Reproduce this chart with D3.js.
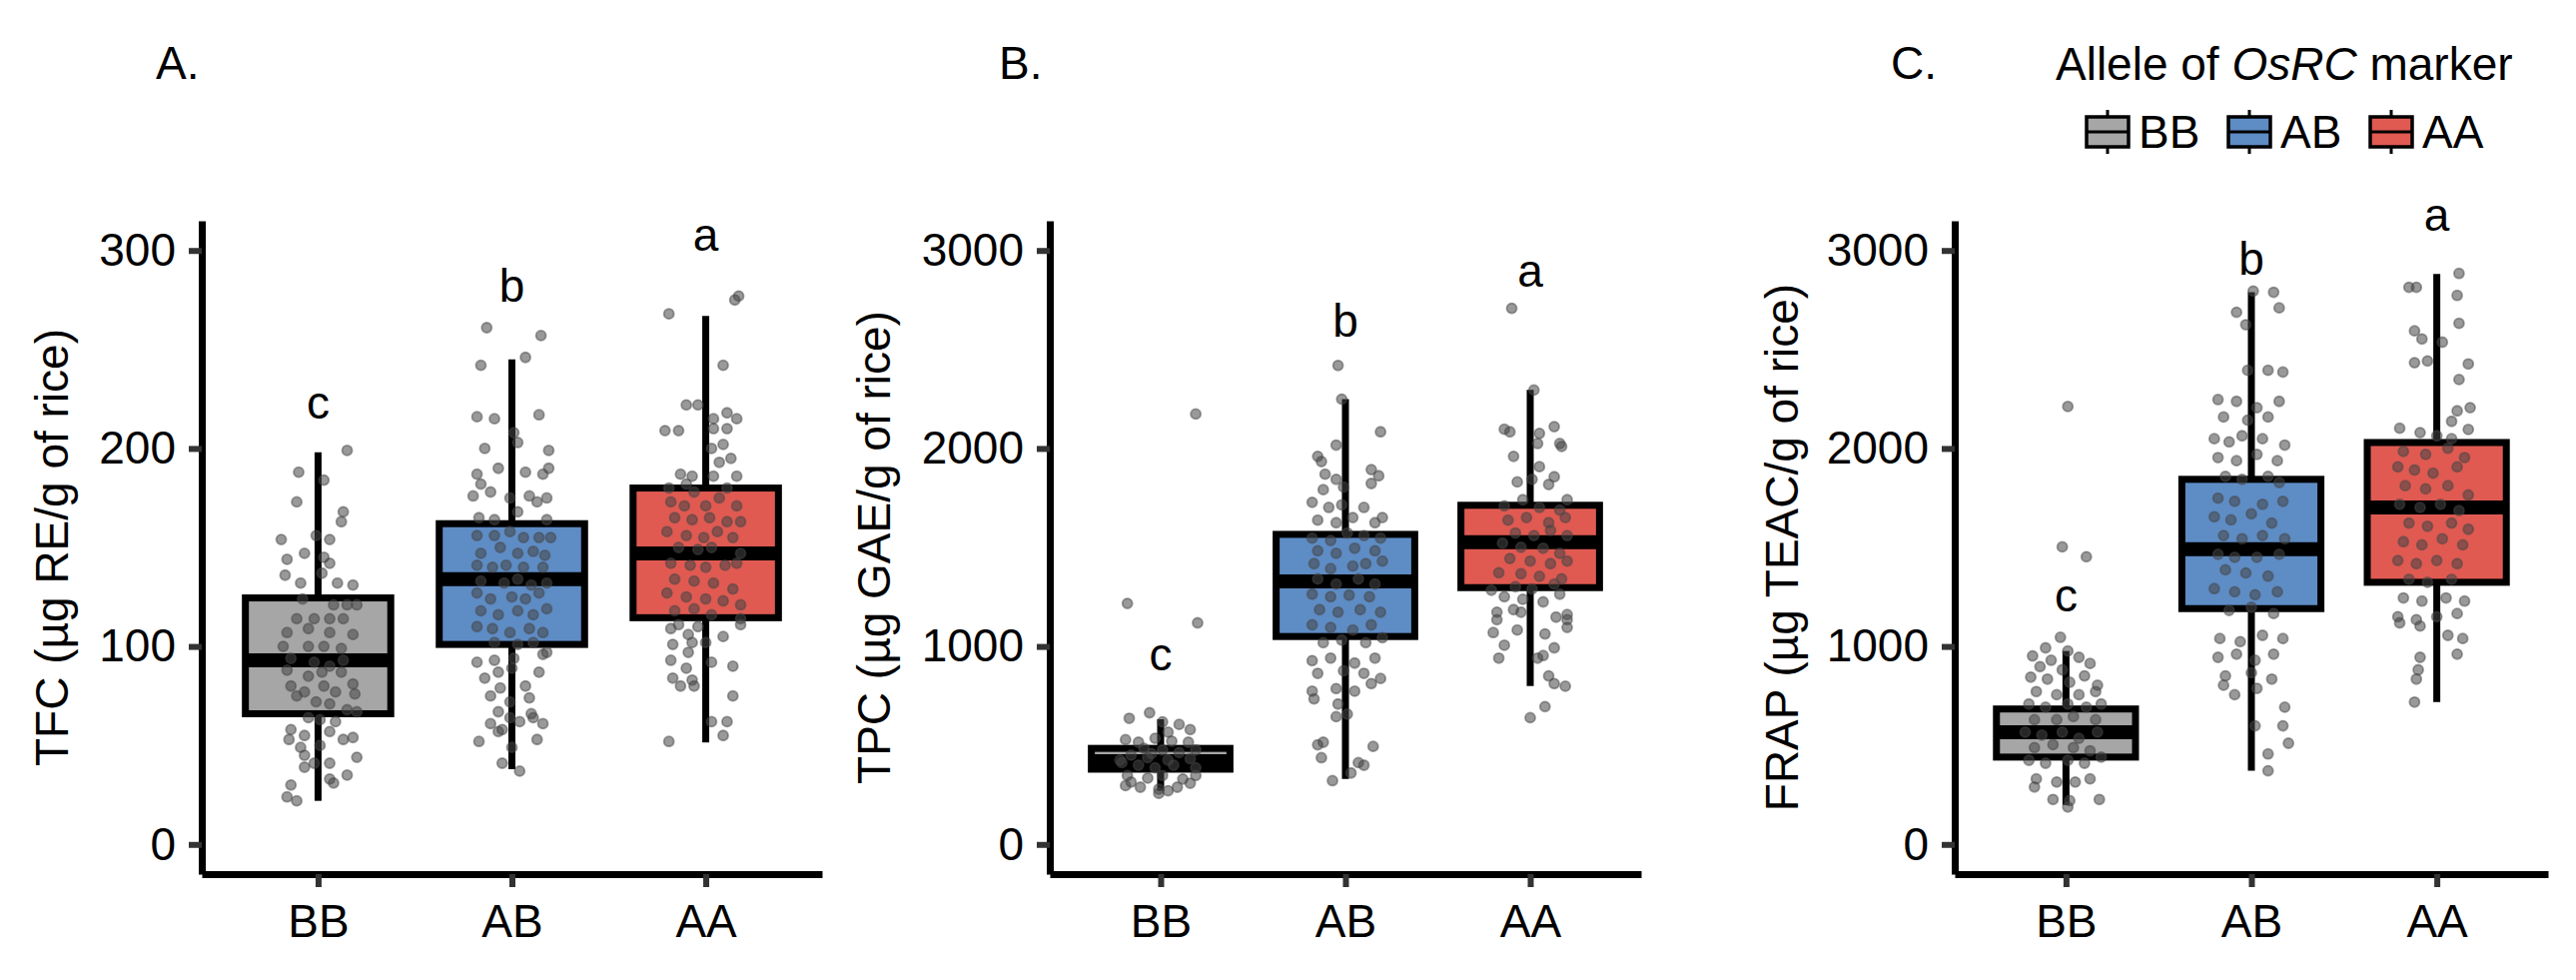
<!DOCTYPE html>
<head>
  <meta charset="utf-8">
  <script src="https://d3js.org/d3.v7.min.js"></script>
  <style>
    body { margin:0; background:#fff; }
    svg { display:block; }
    text { font-family: "Liberation Sans", Arial, sans-serif; fill:#000; }
  </style>
</head>
<body>
<script>
  // categories + colours
  var groups = ["BB", "AB", "AA"];
  var fills = ["#A6A6A6", "#5E8CC5", "#E05A52"];

  // box stats per group: [lower whisker, q1, median, q3, upper whisker]
  var tfcBox = [[22, 66, 93, 124.5, 198], [38, 101, 134, 162, 245], [51.5, 114.5, 147, 180, 267]];
  var tpcBox = [[270, 380, 420, 485, 632], [330, 1050, 1328, 1566, 2249], [800, 1297, 1527, 1713, 2296]];
  var frapBox = [[199, 441, 567, 684, 977], [372, 1191, 1491, 1844, 2789], [719, 1324, 1702, 2030, 2881]];

  var tfcTicks = [0, 100, 200, 300];
  var tpcTicks = [0, 1000, 2000, 3000];
  var frapTicks = [0, 1000, 2000, 3000];

  // letters above each group (value where the baseline sits)
  var tfcLetters = ["c", "b", "a"], tfcLetterY = [215, 274, 300];
  var tpcLetters = ["c", "b", "a"], tpcLetterY = [877, 2566, 2819];
  var frapLetters = ["c", "b", "a"], frapLetterY = [1175, 2877, 3098];

  // jittered points: [horizontal offset in category units, value]
  var tfcBB = [[.15,199],[-.10,188],[.03,184],[-.11,173],[.13,168],[.12,163],[-.19,154],[-.01,156],[.06,154],[-.16,144],[-.07,147],[.03,145],[.06,142],[-.17,136],[-.09,132],[.02,137],[.10,132],[.18,131],[-.08,124],[.08,121],[.15,121],[.20,121],[-.11,114],[-.02,114],[.06,114],[.13,114],[-.16,107],[-.05,109],[.06,107],[.18,106],[-.18,100],[-.05,100],[.03,100],[.12,99],[-.14,94],[-.02,92],[.06,90],[.13,93],[-.16,88],[-.05,85],[.02,87],[.12,87],[.18,81],[-.14,80],[-.07,77],[.03,80],[.09,77],[.19,76],[-.11,75],[-.01,72],[.06,71],[.15,68],[.20,67],[-.05,64],[.01,63],[.09,62],[-.14,58],[-.07,55],[.06,57],[.13,53],[-.15,53],[-.09,49],[.01,50],[.18,54],[.20,44],[-.07,45],[-.02,41],[-.07,39],[.06,41],[.06,33],[.15,35],[.08,31],[-.14,30],[-.16,24],[-.11,22]];
  var tfcAB = [[-.13,261],[.15,257],[-.16,242],[.07,246],[-.18,216],[-.09,215],[.14,217],[-.14,200],[.01,208],[.03,203],[.19,199],[-.18,187],[-.16,182],[-.07,190],[.07,188],[.16,187],[.19,190],[-.20,176],[-.11,178],[-.01,175],[.09,176],[.13,173],[.18,175],[-.17,165],[-.09,164],[.03,168],[.18,164],[-.18,156],[-.09,156],[-.01,158],[.06,155],[.14,155],[.20,155],[-.16,147],[-.06,150],[.03,147],[.11,148],[.17,146],[-.18,141],[-.10,140],[-.03,141],[.06,140],[.16,140],[-.16,133],[-.04,132],[.03,134],[.10,131],[.18,132],[-.18,127],[-.11,124],[0,125],[.07,124],[.14,127],[-.16,118],[-.07,116],[.03,118],[.11,116],[.18,119],[-.18,110],[-.10,109],[-.01,107],[.09,109],[.16,107],[-.09,102],[.03,101],[.11,102],[.18,97],[-.18,92],[-.09,93],[.01,94],[.16,96],[-.07,87],[0,89],[.14,87],[-.14,84],[-.06,79],[.07,80],[-.11,75],[-.01,72],[.09,74],[-.07,67],[.10,66],[-.01,64],[-.11,61],[-.05,58],[.11,64],[.16,61],[-.17,52],[-.07,57],[.04,62],[0,49],[.13,53],[-.05,41],[.04,37]];
  var tfcAA = [[.17,277],[.15,275],[-.19,268],[.09,242],[-.10,222],[-.04,222],[.04,215],[.11,218],[.16,215],[-.21,209],[-.14,209],[.04,210],[.11,210],[.09,202],[.03,200],[.13,195],[.16,186],[-.13,187],[-.07,186],[.07,193],[.04,186],[-.19,180],[-.10,182],[-.06,178],[.11,180],[-.18,173],[-.11,171],[0,171],[.07,175],[.16,171],[-.16,165],[-.07,164],[.02,165],[.11,163],[.18,163],[-.20,158],[-.10,156],[-.01,155],[.06,158],[.14,155],[-.14,150],[-.04,149],[.03,150],[.18,147],[-.18,142],[-.08,141],[0,140],[.10,141],[.16,142],[-.16,134],[-.06,133],[.04,132],[.14,129],[-.20,127],[-.10,125],[0,124],[.09,123],[.18,121],[-.16,118],[-.06,119],[.03,116],[-.14,111],[-.04,110],[.18,114],[-.18,109],[-.09,106],[.18,111],[-.17,101],[-.07,102],[0,102],[.09,105],[-.18,93],[-.09,97],[.03,92],[-.10,89],[.14,90],[-.17,84],[-.07,83],[-.13,80],[-.06,80],[.14,75],[.03,62],[.11,62],[.09,55],[-.19,52]];

  var tpcBB = [[.19,2174],[-.18,1217],[.20,1119],[-.06,665],[-.17,637],[.01,619],[.10,606],[.16,580],[-.19,529],[-.12,516],[-.03,536],[.06,521],[.15,516],[-.09,485],[.01,477],[.10,464],[.19,477],[-.16,451],[-.07,438],[.04,426],[.16,433],[-.21,413],[-.12,400],[-.03,387],[.07,400],[.19,387],[-.18,348],[-.07,335],[.01,348],[.12,330],[.19,348],[-.19,297],[-.11,289],[-.01,279],[.09,289],[.16,309],[-.01,258],[.04,271],[-.16,315],[.04,567],[-.05,459],[-.22,426]];
  var tpcAB = [[-.04,2419],[-.02,2249],[.19,2084],[-.05,2017],[-.15,1960],[-.13,1934],[-.11,1870],[-.05,1844],[.14,1893],[.18,1862],[-.12,1792],[-.01,1805],[.14,1823],[-.18,1728],[-.09,1702],[-.02,1715],[.10,1702],[.20,1651],[-.15,1638],[-.05,1625],[.04,1651],[.16,1625],[-.18,1547],[-.08,1535],[.01,1573],[.10,1560],[.19,1547],[-.15,1483],[-.05,1470],[.05,1496],[.16,1483],[-.17,1418],[-.08,1393],[.04,1406],[.11,1418],[.20,1431],[-.15,1341],[-.05,1315],[.07,1341],[.16,1315],[-.18,1264],[-.08,1251],[.02,1259],[.13,1251],[-.14,1186],[-.04,1173],[.08,1186],[.19,1173],[-.18,1109],[-.08,1096],[.04,1083],[.14,1109],[-.12,1019],[-.02,1032],[.11,1019],[.20,1044],[-.18,928],[-.08,941],[.05,916],[.16,941],[-.15,864],[-.01,877],[.10,864],[.19,838],[-.18,774],[-.05,787],[.05,774],[.14,812],[-.04,709],[-.17,735],[.01,658],[-.05,645],[-.12,516],[-.15,503],[.15,495],[-.13,438],[.07,413],[.10,400],[.03,361],[-.07,322]];
  var tpcAA = [[-.10,2708],[.02,2295],[-.14,2097],[-.11,2084],[.13,2110],[.05,2076],[.16,2025],[.04,2025],[.17,2010],[-.09,1960],[.05,1908],[.13,1857],[-.07,1831],[.01,1844],[.10,1818],[.20,1741],[-.14,1710],[-.04,1741],[.05,1702],[.16,1689],[-.12,1638],[-.02,1651],[.10,1625],[.19,1651],[-.08,1573],[.02,1560],[.11,1586],[.20,1560],[-.15,1522],[-.05,1501],[.07,1496],[.16,1470],[-.11,1444],[0,1431],[.11,1418],[.20,1431],[-.17,1372],[-.05,1367],[.05,1354],[.17,1341],[-.08,1302],[.01,1290],[.13,1315],[-.21,1284],[-.14,1251],[-.04,1238],[.07,1225],[.16,1264],[-.18,1173],[-.09,1186],[-.05,1173],[.14,1148],[.20,1161],[-.18,1135],[-.07,1083],[.20,1135],[-.20,1070],[.08,1063],[.20,1096],[-.14,1006],[.13,993],[.07,954],[-.17,941],[.04,941],[.10,851],[.13,812],[.19,799],[.08,696],[0,640]];

  var frapBB = [[.01,2212],[-.02,1503],[.11,1453],[-.03,1046],[-.11,993],[.01,977],[-.18,952],[-.08,930],[.07,945],[-.14,898],[-.02,882],[.13,914],[-.19,845],[-.10,835],[.02,819],[.10,851],[.17,804],[-.16,772],[-.05,756],[.07,756],[.16,772],[-.20,709],[-.11,693],[.01,709],[.11,693],[.19,709],[-.17,630],[-.05,630],[.04,646],[.16,630],[-.22,567],[-.13,552],[-.02,567],[.07,536],[.17,567],[-.17,489],[-.07,504],[.04,489],[.13,473],[-.20,425],[-.11,410],[.01,425],[.10,410],[.19,441],[-.16,331],[-.05,315],[.05,315],[.13,331],[-.17,290],[-.07,227],[.02,221],[.18,227],[.01,189]];
  var frapAB = [[.01,2795],[.12,2789],[.15,2710],[-.08,2688],[-.03,2625],[-.02,2395],[.09,2395],[.17,2386],[-.18,2247],[-.08,2238],[.03,2206],[.15,2238],[-.15,2159],[-.02,2143],[.09,2159],[-.20,2049],[-.12,2033],[-.05,2064],[.06,2049],[.18,2017],[-.18,1954],[-.08,1938],[.03,1970],[.14,1938],[-.14,1859],[-.05,1844],[.09,1859],[.15,1828],[-.18,1749],[-.09,1733],[.06,1718],[.17,1733],[-.20,1655],[-.11,1639],[0,1670],[.11,1623],[-.15,1560],[-.05,1544],[.06,1560],[.18,1544],[-.18,1465],[-.09,1450],[.03,1450],[.15,1465],[-.14,1387],[-.03,1371],[.09,1355],[-.20,1292],[-.09,1276],[.02,1261],[.14,1276],[-.12,1182],[0,1198],[.12,1166],[-.17,1040],[-.06,1024],[.06,1056],[.17,1040],[-.18,945],[-.08,961],[.02,930],[.12,961],[-.14,851],[0,867],[.11,835],[-.15,804],[-.09,756],[.03,788],[.18,693],[.02,599],[.17,599],[.20,511],[.09,457],[.09,372]];
  var frapAA = [[.12,2884],[-.15,2814],[-.11,2814],[.11,2773],[.12,2632],[-.12,2594],[-.08,2553],[.03,2537],[-.12,2433],[-.05,2442],[.17,2427],[.12,2348],[.18,2206],[.11,2190],[.08,2137],[.17,2096],[-.20,2102],[-.09,2080],[0,2064],[.08,2049],[-.18,1985],[-.06,1970],[.06,2001],[.15,1954],[-.21,1907],[-.12,1891],[-.02,1875],[.11,1907],[-.17,1812],[-.06,1796],[.06,1812],[.17,1765],[-.20,1718],[-.09,1702],[.02,1718],[.12,1686],[-.15,1623],[-.05,1607],[.08,1623],[.17,1592],[-.18,1529],[-.08,1513],[.03,1544],[.14,1513],[-.21,1434],[-.11,1418],[0,1434],[.11,1418],[-.15,1339],[-.05,1324],[.08,1339],[-.18,1245],[-.08,1229],[.05,1245],[.15,1229],[-.21,1150],[-.11,1135],[0,1150],[.11,1166],[-.20,1119],[-.09,1103],[.06,1056],[.14,1040],[.11,961],[-.09,945],[-.10,882],[-.11,835],[-.12,719]];

  var W = 2579, H = 981;
  var plotTop = 221, plotBottom = 875;
  var fontSize = 46;

  var panels = [
    { tag: "A.", tagX: 156, title: "TFC (µg RE/g of rice)", titleX: 52, x0: 202, x1: 823,
      domain: [-15, 315], ticks: tfcTicks, box: tfcBox, pts: [tfcBB, tfcAB, tfcAA],
      letters: tfcLetters, letterY: tfcLetterY },
    { tag: "B.", tagX: 1000, title: "TPC (µg GAE/g of rice)", titleX: 875, x0: 1051, x1: 1643,
      domain: [-150, 3150], ticks: tpcTicks, box: tpcBox, pts: [tpcBB, tpcAB, tpcAA],
      letters: tpcLetters, letterY: tpcLetterY },
    { tag: "C.", tagX: 1893, title: "FRAP (µg TEAC/g of rice)", titleX: 1784, x0: 1957, x1: 2551,
      domain: [-150, 3150], ticks: frapTicks, box: frapBox, pts: [frapBB, frapAB, frapAA],
      letters: frapLetters, letterY: frapLetterY }
  ];

  var svg = d3.select("body").append("svg")
    .attr("width", W)
    .attr("height", H);

  svg.append("rect").attr("width", W).attr("height", H).attr("fill", "#fff");

  panels.forEach(function(p) {
    var x = d3.scalePoint().domain(groups).range([p.x0, p.x1]).padding(0.6);
    var step = x.step();
    var y = d3.scaleLinear().domain(p.domain).range([plotBottom, plotTop]);
    var g = svg.append("g");
    var halfW = 0.375 * step;

    // boxes
    groups.forEach(function(grp, i) {
      var b = p.box[i], cx = x(grp);
      g.append("line")
        .attr("x1", cx).attr("x2", cx)
        .attr("y1", y(b[4])).attr("y2", y(b[3]))
        .attr("stroke", "#000").attr("stroke-width", 7);
      g.append("line")
        .attr("x1", cx).attr("x2", cx)
        .attr("y1", y(b[1])).attr("y2", y(b[0]))
        .attr("stroke", "#000").attr("stroke-width", 7);
      g.append("rect")
        .attr("x", cx - halfW).attr("width", 2 * halfW)
        .attr("y", y(b[3])).attr("height", y(b[1]) - y(b[3]))
        .attr("fill", fills[i])
        .attr("stroke", "#000").attr("stroke-width", 7);
      g.append("line")
        .attr("x1", cx - halfW).attr("x2", cx + halfW)
        .attr("y1", y(b[2])).attr("y2", y(b[2]))
        .attr("stroke", "#000").attr("stroke-width", 14);
    });

    // jittered points
    groups.forEach(function(grp, i) {
      g.selectAll(null)
        .data(p.pts[i])
        .enter()
        .append("circle")
        .attr("cx", function(d) { return x(grp) + d[0] * step; })
        .attr("cy", function(d) { return y(d[1]); })
        .attr("r", 5)
        .attr("fill", "#454545").attr("fill-opacity", 0.55)
        .attr("stroke", "#454545").attr("stroke-opacity", 0.5)
        .attr("stroke-width", 1.8);
    });

    // significance letters
    groups.forEach(function(grp, i) {
      g.append("text")
        .attr("x", x(grp))
        .attr("y", y(p.letterY[i]))
        .attr("text-anchor", "middle")
        .style("font-size", fontSize + "px")
        .text(p.letters[i]);
    });

    // axes
    var yAxis = g.append("g")
      .attr("transform", "translate(" + p.x0 + ",0)")
      .call(d3.axisLeft(y).tickValues(p.ticks).tickFormat(d3.format("d"))
        .tickSize(13).tickSizeOuter(0).tickPadding(13));
    var xAxis = g.append("g")
      .attr("transform", "translate(0," + plotBottom + ")")
      .call(d3.axisBottom(x).tickSize(13).tickSizeOuter(0).tickPadding(17));

    [yAxis, xAxis].forEach(function(ax) {
      ax.select(".domain").attr("stroke", "#000").attr("stroke-width", 7);
      ax.selectAll(".tick line").attr("stroke", "#333").attr("stroke-width", 6);
      ax.selectAll(".tick text")
        .attr("fill", "#000")
        .style("font-size", fontSize + "px")
        .style("font-family", "'Liberation Sans', Arial, sans-serif");
    });

    // axis title
    g.append("text")
      .attr("transform", "translate(" + p.titleX + "," + ((plotTop + plotBottom) / 2) + ") rotate(-90)")
      .attr("text-anchor", "middle")
      .attr("dy", "0.35em")
      .style("font-size", fontSize + "px")
      .text(p.title);

    // panel tag
    svg.append("text")
      .attr("x", p.tagX).attr("y", 79)
      .style("font-size", fontSize + "px")
      .text(p.tag);
  });

  // legend
  var legend = svg.append("g");
  var title = legend.append("text")
    .attr("x", 2058).attr("y", 80)
    .style("font-size", fontSize + "px");
  title.append("tspan").text("Allele of ");
  title.append("tspan").style("font-style", "italic").text("OsRC");
  title.append("tspan").text(" marker");

  groups.forEach(function(grp, i) {
    var kx = 2089 + i * 142;
    legend.append("line")
      .attr("x1", kx + 21).attr("x2", kx + 21)
      .attr("y1", 110).attr("y2", 154)
      .attr("stroke", "#000").attr("stroke-width", 3);
    legend.append("rect")
      .attr("x", kx).attr("y", 117)
      .attr("width", 42).attr("height", 30)
      .attr("fill", fills[i])
      .attr("stroke", "#000").attr("stroke-width", 3.5);
    legend.append("line")
      .attr("x1", kx).attr("x2", kx + 42)
      .attr("y1", 132).attr("y2", 132)
      .attr("stroke", "#000").attr("stroke-width", 3);
    legend.append("text")
      .attr("x", kx + 52).attr("y", 148)
      .style("font-size", fontSize + "px")
      .text(grp);
  });
</script>
</body>
